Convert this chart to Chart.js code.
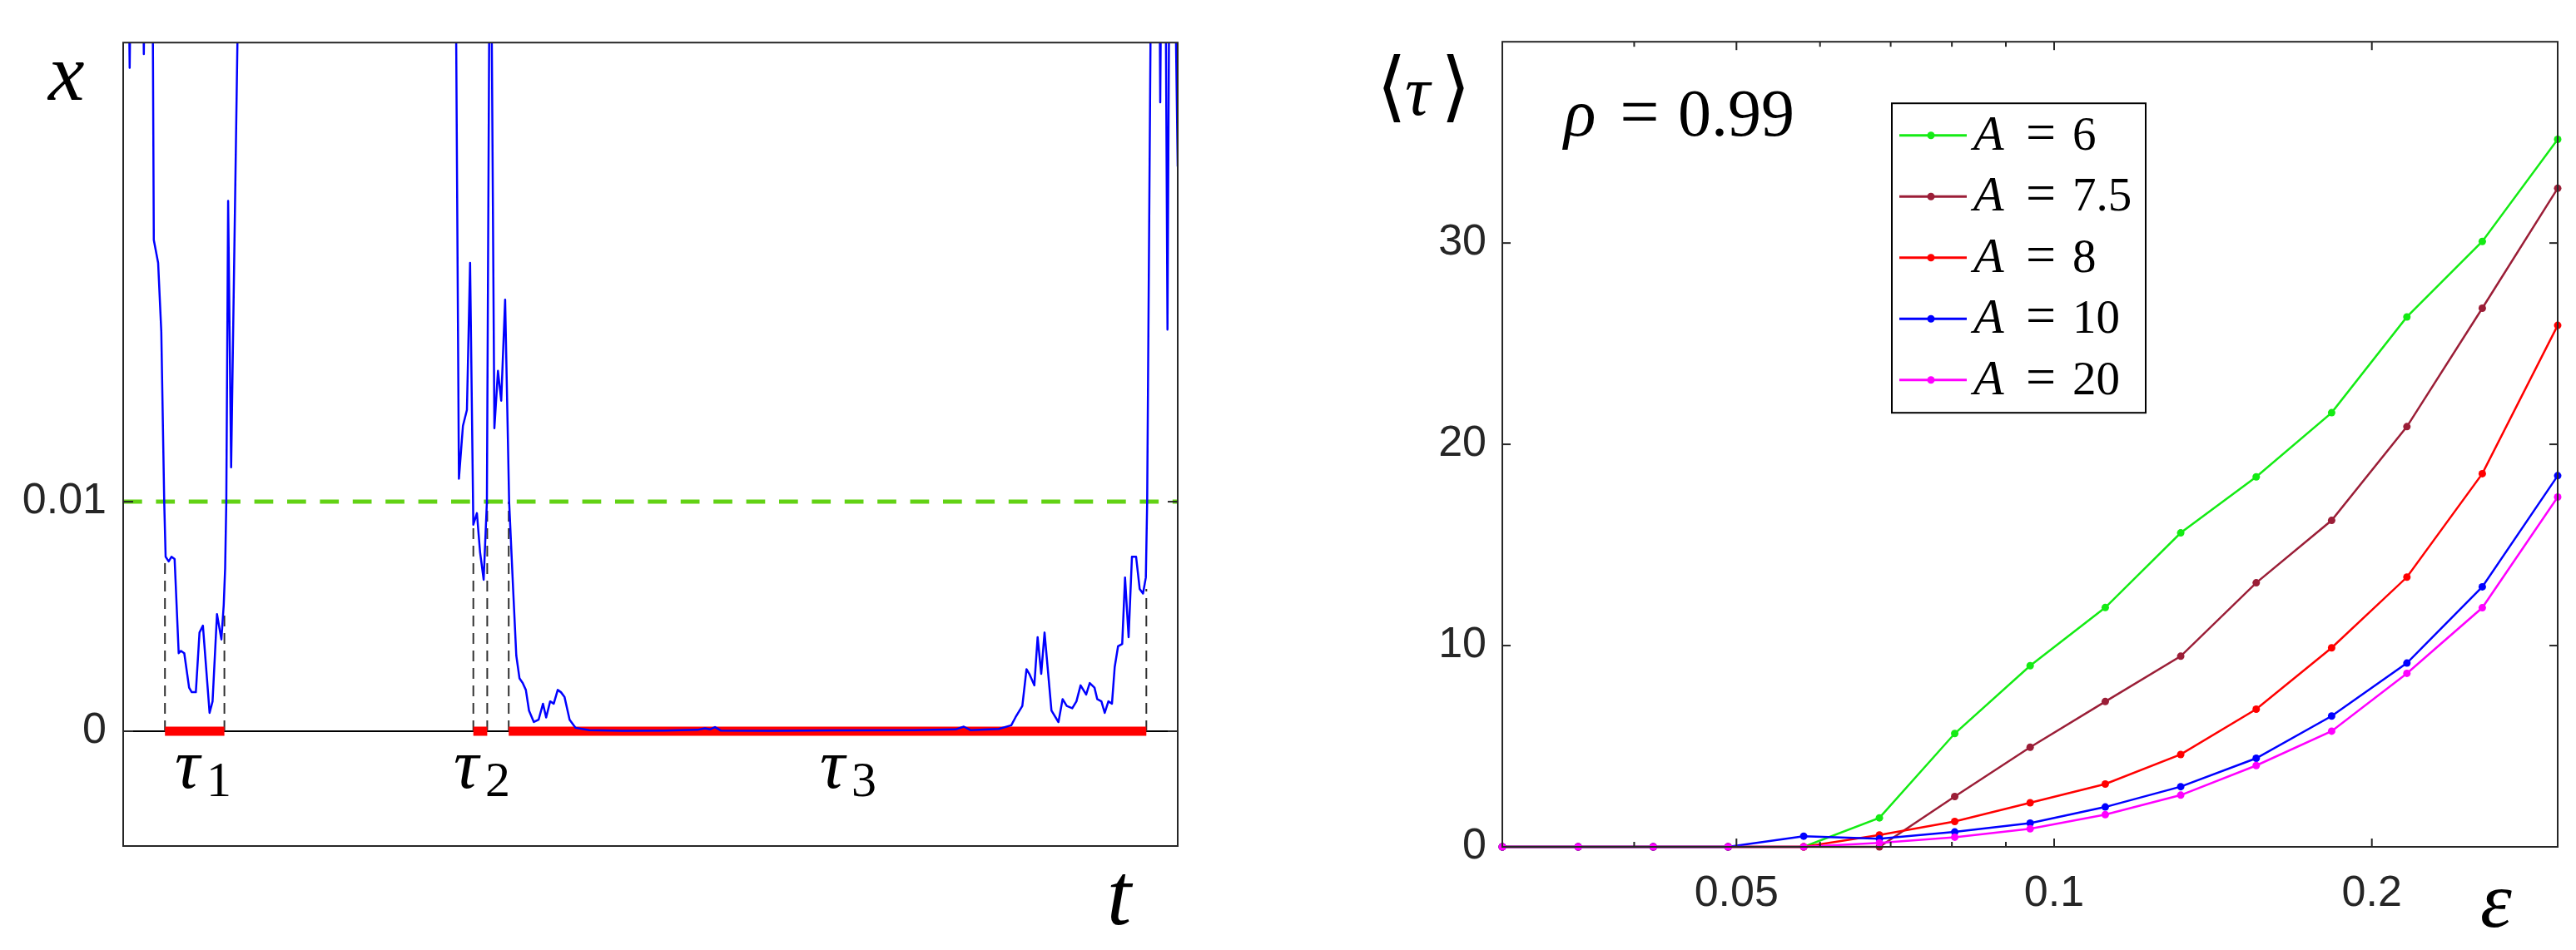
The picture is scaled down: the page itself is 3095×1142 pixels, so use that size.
<!DOCTYPE html>
<html>
<head>
<meta charset="utf-8">
<script src="https://cdn.jsdelivr.net/npm/chart.js@4.4.1/dist/chart.umd.min.js"></script>
<style>
  html, body { margin: 0; padding: 0; background: #fff; }
  #wrap { position: relative; width: 3095px; height: 1142px; background: #fff; }
  canvas { position: absolute; top: 0; }
</style>
</head>
<body>
<div id="wrap">
  <canvas id="trace" width="1500" height="1142" style="left:0"></canvas>
  <canvas id="meanTau" width="1595" height="1142" style="left:1500px"></canvas>
</div>
<script>
// ---- left panel: one trajectory x(t) ----
const tRange = [0, 1267];
const tValues = [
  0, 6.2, 7.8, 9.4, 16, 23.6, 24.8, 26, 31, 35.2,
  36.8, 42.0, 45.8, 49.3, 51.0, 54.7, 58.0, 61.8, 66.7, 69.4,
  73.4, 79.2, 82.4, 87.3, 91.7, 95.8, 103.8, 107.4, 112.7, 118.0,
  120.8, 122.5, 123.9, 126.1, 129.7, 137.3, 139.0, 200, 330, 399.0,
  400.1, 403.4, 408.2, 413.0, 416.8, 420.7, 425.0, 428.8, 433.1, 437.0,
  440.5, 441.8, 446.0, 450.3, 454.2, 458.9, 463.7, 468.5, 472.3, 476.2,
  480.0, 483.8, 487.6, 493.4, 499.1, 504.4, 508.2, 513.0, 517.3, 522.1,
  526.0, 530.2, 536.4, 543.6, 560, 600, 650, 690, 699, 705,
  711, 718, 780, 850, 950, 1000, 1010, 1018, 1052, 1067,
  1072, 1080.3, 1085.3, 1088.7, 1094.7, 1098.7, 1103.0, 1107.0, 1115.3, 1123.7,
  1128.7, 1133.7, 1140.3, 1145.3, 1150.3, 1157.0, 1161.3, 1167.0, 1170.3, 1175.3,
  1179.3, 1183.7, 1188.0, 1191.3, 1195.3, 1200.3, 1203.7, 1208.0, 1212.0, 1217.0,
  1221.3, 1225.3, 1228.7, 1230.3, 1234.3, 1236.0, 1245.0, 1246.0, 1247.3, 1252.0,
  1254.7, 1257.0, 1262.7, 1267.0
];
const xValues = [
  0.036, 0.034, 0.0289, 0.034, 0.038, 0.034, 0.0295, 0.034, 0.038, 0.034,
  0.0214, 0.0204, 0.0174, 0.0100, 0.0076, 0.0074, 0.0076, 0.0075, 0.0034, 0.0035,
  0.0034, 0.0019, 0.0017, 0.0017, 0.0043, 0.0046, 0.0008, 0.0013, 0.0051, 0.0040,
  0.0055, 0.0071, 0.0100, 0.0231, 0.0115, 0.0301, 0.036, 0.05, 0.05, 0.036,
  0.0301, 0.0110, 0.0133, 0.0140, 0.0204, 0.0090, 0.0095, 0.0078, 0.0066, 0.0100,
  0.036, 0.036, 0.0132, 0.0157, 0.0144, 0.0188, 0.0100, 0.0062, 0.0033, 0.0023,
  0.0021, 0.0018, 0.0009, 0.0004, 0.0005, 0.0012, 0.0006, 0.0013, 0.0012, 0.0018,
  0.0017, 0.0015, 0.0005, 0.00015, 0.00005, 0.00002, 0.00003, 0.00006, 0.00013, 0.00008,
  0.00018, 0.00003, 0.00002, 0.00004, 0.00005, 0.00008, 0.0002, 0.00005, 0.0001, 0.00026,
  0.0006, 0.0011, 0.0027, 0.0025, 0.0020, 0.0041, 0.0025, 0.0043, 0.0009, 0.0004,
  0.0014, 0.0011, 0.0010, 0.0013, 0.0020, 0.0016, 0.0021, 0.0019, 0.0014, 0.0013,
  0.0008, 0.0013, 0.0012, 0.0028, 0.0037, 0.0038, 0.0067, 0.0041, 0.0076, 0.0076,
  0.0062, 0.0060, 0.0067, 0.0100, 0.0301, 0.036, 0.034, 0.0274, 0.034, 0.036,
  0.0175, 0.034, 0.036, 0.0246
];
const xTickVals = [0, 0.01];
const threshold = 0.01;
const tauStart = [50.2, 420.7, 463.2];
const tauEnd = [121.6, 437.4, 1229.3];
const tauStartLevel = [0.0076, 0.0090, 0.0100];
const tauEndLevel = [0.0053, 0.0100, 0.0062];
const tauNames = ["1", "2", "3"];

// ---- right panel: mean residence time vs epsilon ----
const epsValues = [0.0300, 0.0354, 0.0417, 0.0491, 0.0579, 0.0683, 0.0805, 0.0949,
  0.1118, 0.1318, 0.1554, 0.1832, 0.2159, 0.2545, 0.3000];
const epsTicks = [0.05, 0.1, 0.2];
const epsMinorTicks = [0.04, 0.06, 0.07, 0.08, 0.09];
const tauTicks = [0, 10, 20, 30];
const aValues = ["6", "7.5", "8", "10", "20"];
const tauA6 = [0, 0, 0, 0, 0, 1.44, 5.63, 9.0, 11.89, 15.6, 18.38, 21.57, 26.33, 30.08, 35.15];
const tauA75 = [0, 0, 0, 0, 0, 0, 2.50, 4.95, 7.22, 9.47, 13.12, 16.22, 20.88, 26.76, 32.72];
const tauA8 = [0, 0, 0, 0, 0, 0.59, 1.26, 2.19, 3.12, 4.59, 6.84, 9.89, 13.40, 18.54, 25.91];
const tauA10 = [0, 0, 0, 0, 0.53, 0.40, 0.74, 1.18, 1.98, 2.99, 4.40, 6.50, 9.13, 12.92, 18.44];
const tauA20 = [0, 0, 0, 0, 0, 0.20, 0.48, 0.90, 1.60, 2.57, 4.04, 5.75, 8.62, 11.88, 17.38];

const AXIS = "#262626";
const SANS = '"Liberation Sans", Arial, sans-serif';
const SERIF = '"Liberation Serif", "DejaVu Serif", serif';
const tickFont = { family: SANS, size: 52 };

function seg(ctx, x1, y1, x2, y2) {
  ctx.beginPath();
  ctx.moveTo(x1, y1);
  ctx.lineTo(x2, y2);
  ctx.stroke();
}

function txt(ctx, s, x, y, font, align) {
  ctx.font = font;
  ctx.textAlign = align || "left";
  ctx.fillText(s, x, y);
}

// left panel frame, inside ticks and math labels
const traceDecor = {
  id: "traceDecor",
  afterDatasetsDraw(chart) {
    const { ctx, chartArea: a, scales } = chart;
    ctx.save();
    ctx.strokeStyle = AXIS;
    ctx.lineWidth = 2;
    ctx.strokeRect(a.left, a.top, a.right - a.left, a.bottom - a.top);
    xTickVals.forEach((v) => {
      const y = scales.y.getPixelForValue(v);
      seg(ctx, a.left, y, a.left + 12, y);
      seg(ctx, a.right - 12, y, a.right, y);
    });

    ctx.fillStyle = "#000";
    ctx.textBaseline = "alphabetic";
    txt(ctx, "x", a.left - 90, a.top + 69, `italic 98px ${SERIF}`);
    txt(ctx, "t", a.right - 85, a.bottom + 94, `italic 105px ${SERIF}`);

    // tau_k labels under the red intervals
    const labelT = [62, 397, 837];
    const y0 = scales.y.getPixelForValue(0);
    tauNames.forEach((n, i) => {
      const x = scales.x.getPixelForValue(labelT[i]);
      txt(ctx, "\u03C4", x, y0 + 68, `italic 84px ${SERIF}`);
      txt(ctx, n, x + 38, y0 + 78, `60px ${SERIF}`);
    });
    ctx.restore();
  },
};

const traceSets = [];
traceSets.push({
  data: tValues.map((t, i) => ({ x: t, y: xValues[i] })),
  borderColor: "#0000ff",
  borderWidth: 2.5,
  borderJoinStyle: "round",
  order: 0,
});
tauStart.forEach((s, i) => {
  traceSets.push({
    data: [{ x: s, y: 0 }, { x: tauEnd[i], y: 0 }],
    borderColor: "#ff0000",
    borderWidth: 11,
    borderCapStyle: "butt",
    order: 1,
  });
  traceSets.push({
    data: [{ x: s, y: 0 }, { x: s, y: tauStartLevel[i] }],
    borderColor: "#303030",
    borderWidth: 2,
    borderDash: [13, 8],
    order: 2,
  });
  traceSets.push({
    data: [{ x: tauEnd[i], y: 0 }, { x: tauEnd[i], y: tauEndLevel[i] }],
    borderColor: "#303030",
    borderWidth: 2,
    borderDash: [13, 8],
    order: 2,
  });
});
traceSets.push({
  data: [{ x: tRange[0], y: threshold }, { x: tRange[1], y: threshold }],
  borderColor: "rgb(98,210,20)",
  borderWidth: 5,
  borderDash: [22.7, 16.7],
  order: 3,
});
traceSets.push({
  data: [{ x: tRange[0], y: 0 }, { x: tRange[1], y: 0 }],
  borderColor: "#000",
  borderWidth: 2,
  order: 4,
});
traceSets.forEach((d) => {
  d.pointRadius = 0;
  d.fill = false;
  d.tension = 0;
  d.clip = 0;
});

new Chart(document.getElementById("trace"), {
  type: "line",
  data: { datasets: traceSets },
  options: {
    responsive: false,
    animation: false,
    events: [],
    layout: { padding: { left: 0, top: 34, right: 85, bottom: 125 } },
    plugins: { legend: { display: false }, tooltip: { enabled: false } },
    scales: {
      x: { type: "linear", display: false, min: tRange[0], max: tRange[1] },
      y: {
        type: "linear",
        min: -0.005,
        max: 0.03,
        afterBuildTicks: (s) => { s.ticks = xTickVals.map((v) => ({ value: v })); },
        afterFit: (s) => { s.width = 148; },
        grid: { display: false, drawTicks: false },
        border: { display: false },
        ticks: { font: tickFont, color: AXIS, padding: 20, callback: (v) => String(v) },
      },
    },
  },
  plugins: [traceDecor],
});

// right panel frame, ticks, legend, labels
const tauDecor = {
  id: "tauDecor",
  afterDatasetsDraw(chart) {
    const { ctx, chartArea: a, scales } = chart;
    ctx.save();
    ctx.strokeStyle = AXIS;
    ctx.lineWidth = 2;
    ctx.strokeRect(a.left, a.top, a.right - a.left, a.bottom - a.top);
    tauTicks.forEach((v) => {
      const y = scales.y.getPixelForValue(v);
      seg(ctx, a.left, y, a.left + 10, y);
      seg(ctx, a.right - 10, y, a.right, y);
    });
    epsTicks.forEach((v) => {
      const x = scales.x.getPixelForValue(v);
      seg(ctx, x, a.bottom, x, a.bottom - 10);
      seg(ctx, x, a.top, x, a.top + 10);
    });
    epsMinorTicks.forEach((v) => {
      const x = scales.x.getPixelForValue(v);
      seg(ctx, x, a.bottom, x, a.bottom - 6);
      seg(ctx, x, a.top, x, a.top + 6);
    });

    // legend box
    const lx = a.left + 468, ly = a.top + 74, lw = 305, lh = 372;
    ctx.fillStyle = "#fff";
    ctx.fillRect(lx, ly, lw, lh);
    ctx.strokeStyle = "#000";
    ctx.strokeRect(lx, ly, lw, lh);
    chart.data.datasets.forEach((ds, i) => {
      const cy = ly + 38.5 + i * 73.5;
      ctx.strokeStyle = ds.borderColor;
      ctx.lineWidth = 3;
      seg(ctx, lx + 9, cy, lx + 90, cy);
      ctx.fillStyle = ds.borderColor;
      ctx.beginPath();
      ctx.arc(lx + 47, cy, 4.5, 0, Math.PI * 2);
      ctx.fill();
      ctx.fillStyle = "#000";
      ctx.textBaseline = "alphabetic";
      txt(ctx, "A", lx + 98, cy + 17, `italic 60px ${SERIF}`);
      txt(ctx, "=", lx + 179, cy + 17, `64px ${SERIF}`, "center");
      txt(ctx, aValues[i], lx + 217, cy + 17, `57px ${SERIF}`);
    });

    // axis labels and annotation
    ctx.fillStyle = "#000";
    ctx.textBaseline = "alphabetic";
    txt(ctx, "\u27E8", a.left - 151, a.top + 85, `92px ${SERIF}`);
    txt(ctx, "\u03C4", a.left - 117, a.top + 88, `italic 84px ${SERIF}`);
    txt(ctx, "\u27E9", a.left - 38, a.top + 85, `92px ${SERIF}`, "right");
    txt(ctx, "\u03C1", a.left + 74, a.top + 113, `italic 80px ${SERIF}`);
    txt(ctx, "=", a.left + 165, a.top + 113, `84px ${SERIF}`, "center");
    txt(ctx, "0.99", a.left + 211, a.top + 113, `80px ${SERIF}`);
    txt(ctx, "\u03B5", a.left + 1175, a.bottom + 96, `italic 96px ${SERIF}`);
    ctx.restore();
  },
};

const seriesTau = [tauA6, tauA75, tauA8, tauA10, tauA20];
const seriesColors = ["rgb(20,235,20)", "rgb(155,30,55)", "#ff0000", "#0000ff", "#ff00ff"];
const tauSets = seriesTau.map((vals, k) => ({
  label: "A = " + aValues[k],
  data: epsValues.map((e, i) => ({ x: e, y: vals[i] })),
  borderColor: seriesColors[k],
  backgroundColor: seriesColors[k],
  pointBackgroundColor: seriesColors[k],
  pointBorderWidth: 0,
  pointRadius: 4.5,
  borderWidth: 2.5,
  tension: 0,
  fill: false,
  clip: false,
  order: 5 - k,
}));

new Chart(document.getElementById("meanTau"), {
  type: "line",
  data: { datasets: tauSets },
  options: {
    responsive: false,
    animation: false,
    events: [],
    layout: { padding: { left: 0, top: 45, right: 22, bottom: 0 } },
    plugins: { legend: { display: false }, tooltip: { enabled: false } },
    scales: {
      x: {
        type: "logarithmic",
        min: 0.03,
        max: 0.3,
        afterBuildTicks: (s) => { s.ticks = epsTicks.map((v) => ({ value: v })); },
        afterFit: (s) => { s.height = 124; },
        grid: { display: false, drawTicks: false },
        border: { display: false },
        ticks: { font: tickFont, color: AXIS, padding: 25, autoSkip: false, maxRotation: 0,
          callback: (v) => String(v) },
      },
      y: {
        type: "linear",
        min: 0,
        max: 40,
        afterBuildTicks: (s) => { s.ticks = tauTicks.map((v) => ({ value: v })); },
        afterFit: (s) => { s.width = 305; },
        grid: { display: false, drawTicks: false },
        border: { display: false },
        ticks: { font: tickFont, color: AXIS, padding: 19, callback: (v) => String(v) },
      },
    },
  },
  plugins: [tauDecor],
});
</script>
</body>
</html>
